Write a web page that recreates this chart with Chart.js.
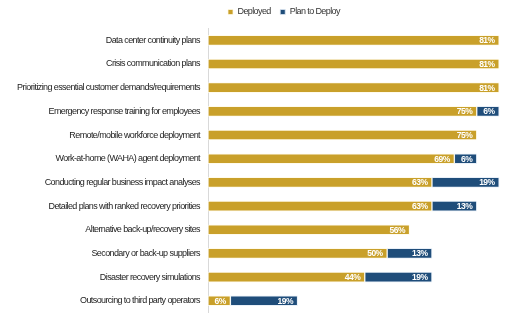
<!DOCTYPE html>
<html>
<head>
<meta charset="utf-8">
<script src="https://cdn.jsdelivr.net/npm/chart.js@4.4.1/dist/chart.umd.min.js"></script>
<style>
html,body{margin:0;padding:0;background:#fff;}
#wrap{width:512px;height:326px;position:relative;}
</style>
</head>
<body>
<div id="wrap"><canvas id="c" width="512" height="326"></canvas></div>
<script>
const categories = [
  "Data center continuity plans",
  "Crisis communication plans",
  "Prioritizing essential customer demands/requirements",
  "Emergency response training for employees",
  "Remote/mobile workforce deployment",
  "Work-at-home (WAHA) agent deployment",
  "Conducting regular business impact analyses",
  "Detailed plans with ranked recovery priorities",
  "Alternative back-up/recovery sites",
  "Secondary or back-up suppliers",
  "Disaster recovery simulations",
  "Outsourcing to third party operators"
];
const deployed = [81.25, 81.25, 81.25, 75, 75, 68.75, 62.5, 62.5, 56.25, 50, 43.75, 6.25];
const planToDeploy = [0, 0, 0, 6.25, 0, 6.25, 18.75, 12.5, 0, 12.5, 18.75, 18.75];
const seriesNames = ["Deployed", "Plan to Deploy"];

const FONT = "'Liberation Sans', Arial, sans-serif";
const SPACING = '-0.6px';

const canvas = document.getElementById('c');
const ctx0 = canvas.getContext('2d');
ctx0.letterSpacing = SPACING;

const spacingPlugin = {
  id: 'spacing',
  beforeUpdate(chart) { chart.ctx.letterSpacing = SPACING; },
  beforeDraw(chart) { chart.ctx.letterSpacing = SPACING; }
};

const labelPlugin = {
  id: 'barLabels',
  afterDatasetsDraw(chart) {
    const ctx = chart.ctx;
    ctx.save();
    ctx.font = "bold 8.5px " + FONT;
    ctx.letterSpacing = '-0.5px';
    ctx.fillStyle = "#ffffff";
    ctx.textAlign = "right";
    ctx.textBaseline = "middle";
    chart.data.datasets.forEach((ds, di) => {
      const meta = chart.getDatasetMeta(di);
      meta.data.forEach((bar, i) => {
        const v = ds.data[i];
        if (!v) return;
        ctx.fillText(Math.round(v) + "%", bar.x - 4.5, bar.y + 0.5);
      });
    });
    ctx.restore();
  }
};

const legendShift = {
  id: 'legendShift',
  afterLayout(chart) {
    const lg = chart.legend;
    if (!lg || !lg.lineWidths) return;
    const pad = lg.options.labels.padding;
    const startX = ((lg.left + pad) + (lg.right - lg.lineWidths[0])) / 2;
    const dx = 228 - startX;
    lg.left += dx; lg.right += dx;
    const dy = -2;
    lg.top += dy; lg.bottom += dy;
  }
};

new Chart(canvas, {
  type: 'bar',
  data: {
    labels: categories,
    datasets: [
      {label: seriesNames[0], data: deployed, backgroundColor: '#C9A02A', borderColor: 'rgba(255,250,230,0.75)', borderWidth: 1, borderSkipped: false, barThickness: 10},
      {label: seriesNames[1], data: planToDeploy, backgroundColor: '#1F4D7A', borderColor: 'rgba(225,235,245,0.75)', borderWidth: 1, borderSkipped: false, barThickness: 10}
    ]
  },
  options: {
    indexAxis: 'y',
    responsive: false,
    animation: false,
    devicePixelRatio: 1,
    layout: {padding: {left: 0, right: 3, top: 0, bottom: 2}},
    plugins: {
      legend: {
        display: true,
        position: 'top',
        labels: {
          boxWidth: 5, boxHeight: 5, padding: 9.5,
          color: '#333',
          font: {family: FONT, size: 9}
        }
      },
      tooltip: {enabled: false}
    },
    scales: {
      x: {
        stacked: true, min: 0, max: 84, display: false
      },
      y: {
        stacked: true,
        grid: {display: false, drawTicks: false},
        border: {display: true, color: '#d9d9d9', width: 1},
        ticks: {color: '#222', padding: 8, font: {family: FONT, size: 9}, autoSkip: false},
        afterFit(scale) { scale.width = 208; }
      }
    }
  },
  plugins: [spacingPlugin, labelPlugin, legendShift]
});
</script>
</body>
</html>
